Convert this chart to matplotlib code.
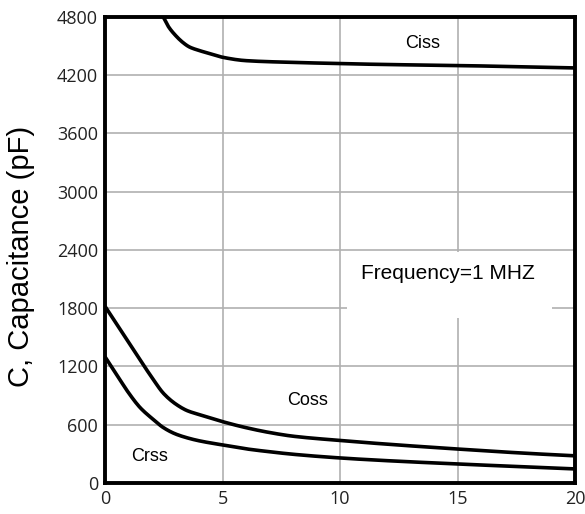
import numpy as np
import matplotlib.pyplot as plt
from matplotlib.patches import Rectangle

# values
vds_ciss = [2.3, 2.5, 2.7, 3.0, 3.3, 3.6, 4.0, 4.5, 5.0, 6.0, 8.0, 10, 12, 15, 18, 20]
ciss = [4860, 4790, 4700, 4610, 4540, 4490, 4455, 4420, 4385, 4350, 4332, 4320, 4310, 4300, 4285, 4275]

vds = [0, 0.5, 1, 1.5, 2, 2.5, 3, 3.5, 4, 5, 6, 7, 8, 10, 12, 15, 18, 20]
coss = [1820, 1635, 1450, 1265, 1085, 920, 815, 745, 705, 632, 570, 520, 482, 438, 400, 350, 305, 280]
crss = [1300, 1115, 930, 775, 665, 568, 505, 465, 435, 392, 352, 322, 296, 258, 230, 196, 165, 145]


def pchip(x, y, n=400):
    # monotone cubic so the curves bend smoothly without overshoot
    x = np.asarray(x, float)
    y = np.asarray(y, float)
    h = np.diff(x)
    d = np.diff(y) / h
    m = np.zeros_like(y)
    for k in range(1, len(x) - 1):
        if d[k - 1] * d[k] > 0:
            w1 = 2 * h[k] + h[k - 1]
            w2 = h[k] + 2 * h[k - 1]
            m[k] = (w1 + w2) / (w1 / d[k - 1] + w2 / d[k])
    m[0], m[-1] = d[0], d[-1]
    xs = np.linspace(x[0], x[-1], n)
    i = np.clip(np.searchsorted(x, xs) - 1, 0, len(h) - 1)
    t = (xs - x[i]) / h[i]
    ys = (y[i] * (2 * t**3 - 3 * t**2 + 1) + h[i] * m[i] * (t**3 - 2 * t**2 + t)
          + y[i + 1] * (-2 * t**3 + 3 * t**2) + h[i] * m[i + 1] * (t**3 - t**2))
    return xs, ys


fig = plt.figure(figsize=(5.85, 5.14), dpi=100)
ax = fig.add_axes([0.1795, 0.0603, 0.8035, 0.9067])

for x, y in [(vds_ciss, ciss), (vds, coss), (vds, crss)]:
    ax.plot(*pchip(x, y), color="black", lw=2.6, solid_capstyle="butt", zorder=3)

ax.set_xlim(0, 20)
ax.set_ylim(0, 4800)
ax.set_xticks([0, 5, 10, 15, 20])
ax.set_yticks(range(0, 4801, 600))
ax.grid(True, color="#b0b0b0", lw=1.2)
ax.set_axisbelow(True)
for s in ax.spines.values():
    s.set_linewidth(2.8)
ax.tick_params(length=0, pad=5, labelsize=13, colors="#222222")
for lbl in ax.get_xticklabels() + ax.get_yticklabels():
    lbl.set_family("Open Sans")
ax.set_ylabel("C, Capacitance (pF)", fontsize=21, family="Liberation Sans")
ax.yaxis.set_label_coords(-0.148, 0.487)

ax.text(13.5, 4530, "Ciss", fontsize=13, family="Liberation Sans", ha="center", va="center")
ax.text(8.6, 845, "Coss", fontsize=13, family="Liberation Sans", ha="center", va="center")
ax.text(1.9, 275, "Crss", fontsize=13, family="Liberation Sans", ha="center", va="center")

# white box hiding the grid behind the note
ax.add_patch(Rectangle((10.3, 1700), 8.7, 680, facecolor="white", edgecolor="none", zorder=1))
ax.text(14.6, 2160, "Frequency=1 MHZ", fontsize=15, family="Liberation Sans", ha="center", va="center", zorder=2)

fig.savefig("out.png", dpi=100)
